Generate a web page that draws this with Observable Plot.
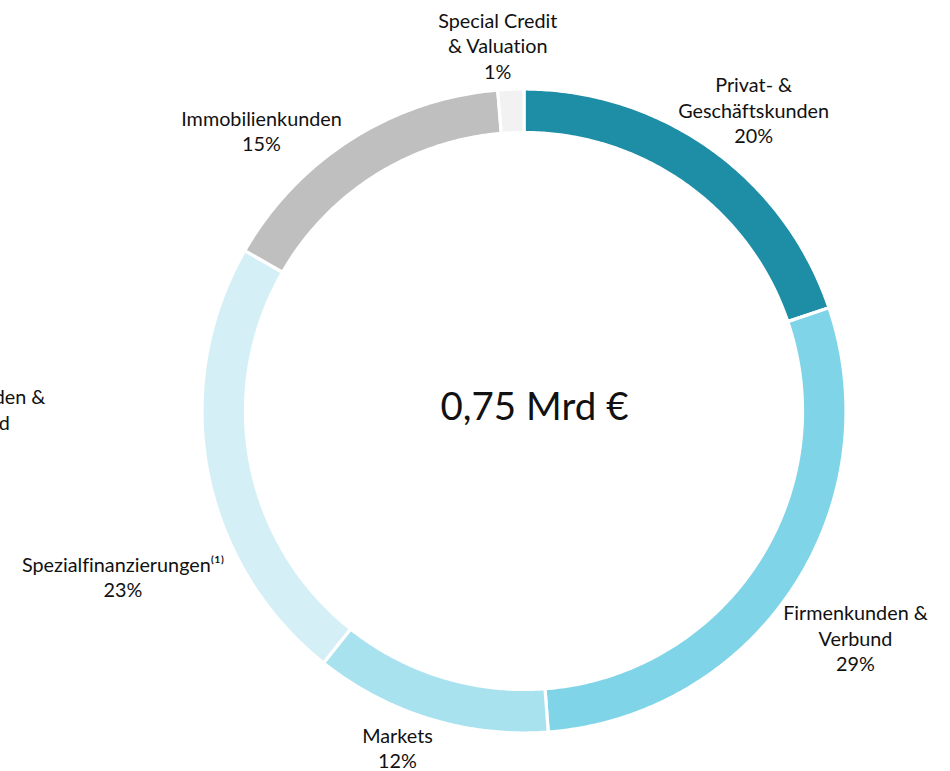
<!DOCTYPE html>
<html>
<head>
<meta charset="utf-8">
<script src="https://cdn.jsdelivr.net/npm/d3@7"></script>
<script src="https://cdn.jsdelivr.net/npm/@observablehq/plot@0.6"></script>
<style>
  html, body { margin: 0; padding: 0; background: #ffffff; overflow: hidden; }
  #chart { width: 950px; height: 771px; }
  #chart svg text { font-variant-ligatures: none; font-feature-settings: "liga" 0, "clig" 0; }
</style>
</head>
<body>
<div id="chart"></div>
<script>
// ---- data ----
const segments = ["Privat- & Geschäftskunden", "Firmenkunden & Verbund", "Markets", "Spezialfinanzierungen", "Immobilienkunden", "Special Credit & Valuation"];
const shares = [19.8, 29.0, 11.9, 22.6, 15.4, 1.3];           // arc sizes (%)
const shareLabels = ["20%", "29%", "12%", "23%", "15%", "1%"];
const labelNames = ["Privat- &\nGeschäftskunden", "Firmenkunden &\nVerbund", "Markets", "Spezialfinanzierungen⁽¹⁾", "Immobilienkunden", "Special Credit\n& Valuation"];
const totalLabel = "0,75 Mrd €";
const clippedNeighbourLabel = "Firmenkunden &\nVerbund";

// ---- style / layout ----
const colors = ["#1e8da6", "#7fd4e8", "#a9e2ef", "#d4f0f6", "#bfbfbf", "#f2f2f2"];
const W = 950, H = 771, CX = 523.5, CY = 410.5;
const R_OUT = 322, R_IN = 278.5;
// label placement: bearing (deg, clockwise from north) and radius of the label block centre
const labelBearing = [37.3, 124.35, 200.6, 247.6, 316.9, 355.9];
const labelRadius = [379, 401.5, 359.5, 433.8, 384.2, 367];
const rad = d => d * Math.PI / 180;
const px = (b, r) => r * Math.sin(rad(b));
const py = (b, r) => -r * Math.cos(rad(b));

// ---- build slice polygons from the shares ----
const total = d3.sum(shares);
const rows = [];
let acc = 0;
segments.forEach((s, i) => {
  const a0 = acc / total * 360, a1 = (acc + shares[i]) / total * 360;
  acc += shares[i];
  const n = Math.max(2, Math.ceil((a1 - a0) / 0.5));
  const pts = [];
  for (let k = 0; k <= n; k++) { const a = a0 + (a1 - a0) * k / n; pts.push([px(a, R_OUT), py(a, R_OUT)]); }
  for (let k = n; k >= 0; k--) { const a = a0 + (a1 - a0) * k / n; pts.push([px(a, R_IN), py(a, R_IN)]); }
  pts.push(pts[0]);
  pts.forEach(([x, y]) => rows.push({segment: s, x, y}));
});

const labels = segments.map((s, i) => ({
  segment: s,
  text: labelNames[i] + "\n" + shareLabels[i],
  x: px(labelBearing[i], labelRadius[i]),
  y: py(labelBearing[i], labelRadius[i])
}));

const plot = Plot.plot({
  width: W, height: H,
  margin: 0,
  x: {domain: [-CX, W - CX], range: [0, W], axis: null},
  y: {domain: [-CY, H - CY], range: [0, H], axis: null},
  color: {domain: segments, range: colors},
  style: {fontFamily: "Lato, 'Open Sans', sans-serif", background: "#ffffff", color: "#111"},
  marks: [
    Plot.line(rows, {x: "x", y: "y", z: "segment", fill: "segment", stroke: "#ffffff", strokeWidth: 3.2, curve: "linear"}),
    Plot.text(labels, {x: "x", y: "y", text: "text", fontSize: 19.8, lineHeight: 1.29, fill: "#111", textAnchor: "middle"}),
    Plot.text([totalLabel], {x: () => 0, y: () => 0, text: d => d, fontSize: 38.5, dx: 10.5, dy: -3, fill: "#111", textAnchor: "middle"}),
    Plot.text([clippedNeighbourLabel], {x: () => px(270.2, 551), y: () => py(270.2, 551), text: d => d, fontSize: 19.8, lineHeight: 1.29, fill: "#111", textAnchor: "middle"})
  ]
});
document.getElementById("chart").appendChild(plot);
</script>
</body>
</html>
